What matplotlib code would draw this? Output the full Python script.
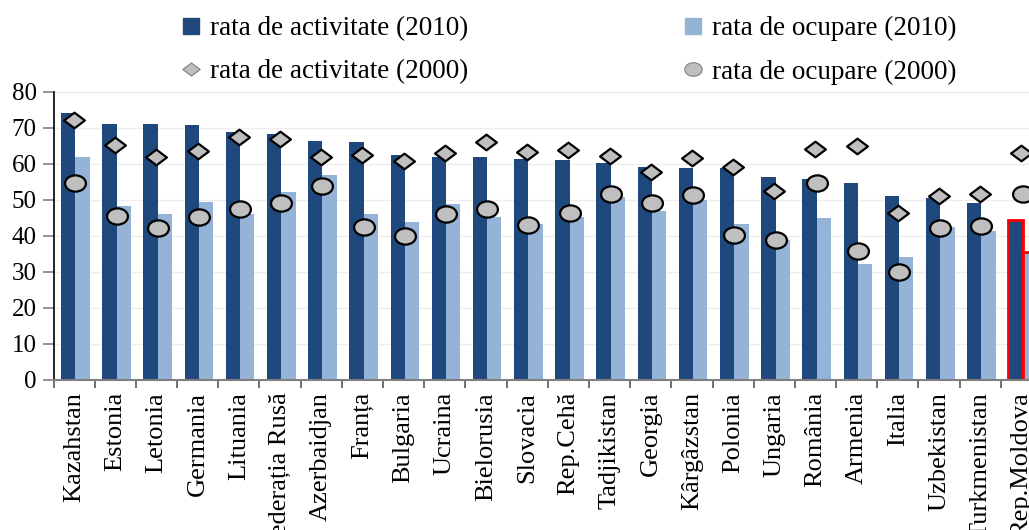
import numpy as np
import matplotlib
matplotlib.use("Agg")
import matplotlib.pyplot as plt
from matplotlib.path import Path
from matplotlib.lines import Line2D

plt.rcParams['font.family'] = ['Liberation Serif', 'DejaVu Serif']

# Data
tari = ["Kazahstan", "Estonia", "Letonia", "Germania", "Lituania", "Federația Rusă",
        "Azerbaidjan", "Franța", "Bulgaria", "Ucraina", "Bielorusia", "Slovacia",
        "Rep.Cehă", "Tadjikistan", "Georgia", "Kârgâzstan", "Polonia", "Ungaria",
        "România", "Armenia", "Italia", "Uzbekistan", "Turkmenistan", "Rep.Moldova"]
activ_2010 = [74.0, 71.0, 71.0, 70.8, 68.9, 68.2, 66.4, 66.1, 62.4, 61.9, 61.9, 61.2,
              60.9, 60.2, 59.0, 58.7, 58.7, 56.3, 55.8, 54.5, 50.9, 50.4, 49.2, 44.3]
ocup_2010 = [61.8, 48.2, 46.0, 49.4, 46.0, 52.2, 56.8, 46.0, 43.8, 48.7, 45.3, 43.3,
             45.1, 50.6, 46.7, 49.9, 43.3, 38.9, 44.8, 32.1, 34.0, 42.4, 41.4, 35.5]
activ_2000 = [72.1, 65.2, 61.8, 63.6, 67.5, 66.8, 61.9, 62.4, 60.7, 62.9, 65.9, 63.2,
              63.8, 62.1, 57.6, 61.5, 59.1, 52.5, 64.0, 65.0, 46.3, 51.0, 51.5, 63.0]
ocup_2000 = [54.7, 45.5, 42.0, 45.2, 47.4, 49.1, 53.8, 42.5, 40.0, 45.9, 47.4, 42.9,
             46.2, 51.7, 49.0, 51.4, 40.2, 38.8, 54.5, 35.6, 30.0, 42.1, 42.8, 51.7]

lbl_a10 = "rata de activitate (2010)"
lbl_o10 = "rata de ocupare (2010)"
lbl_a00 = "rata de activitate (2000)"
lbl_o00 = "rata de ocupare (2000)"

dark = '#1F497D'
light = '#95B3D7'
grey = '#BFBFBF'

# markers look a bit flattened in the original
sq = 0.75
diamond = Path(np.array([[0, 1], [1, 0], [0, -1], [-1, 0], [0, 1]]) * [1, sq],
               [Path.MOVETO, Path.LINETO, Path.LINETO, Path.LINETO, Path.CLOSEPOLY])
circ = Path.unit_circle()
ellipse = Path(circ.vertices * [1, 0.78], circ.codes)

fig = plt.figure(figsize=(10.29, 5.30), dpi=100)
ax = fig.add_axes([53.5 / 1029, 1 - 379.5 / 530, (1042 - 53.5) / 1029, (379.5 - 91.7) / 530])

x = np.arange(len(tari))
w = 0.347
b1 = ax.bar(x - w / 2 + 0.03, activ_2010, w, color=dark, zorder=2)
b2 = ax.bar(x + w / 2 + 0.03, ocup_2010, w, color=light, zorder=2)

# Moldova highlighted with red outline
for b in (b1[-1], b2[-1]):
    b.set_edgecolor('#FF0000')
    b.set_linewidth(2)

ax.plot(x, activ_2000, linestyle='none', marker=diamond, markersize=15,
        markerfacecolor=grey, markeredgecolor='black', markeredgewidth=1.6, zorder=3)
ax.plot(x + 0.03, ocup_2000, linestyle='none', marker=ellipse, markersize=15,
        markerfacecolor=grey, markeredgecolor='black', markeredgewidth=1.6, zorder=3)

ax.set_xlim(-0.5, len(tari) - 0.5)
ax.set_ylim(0, 80)
ax.set_yticks(np.arange(0, 81, 10))
ax.set_xticks(x)
ax.set_xticklabels(tari, rotation=90, fontsize=19, va='top', ha='center')
ax.set_xticks(np.arange(-0.5, len(tari), 1), minor=True)
ax.tick_params(axis='x', which='major', length=0, pad=9)
ax.tick_params(axis='x', which='minor', length=6, width=1.2, color='#595959')
ax.tick_params(axis='y', labelsize=18, length=8, width=1.2, color='#808080', pad=4)

ax.grid(axis='y', color='#EEEEEE', linewidth=1, zorder=0)
ax.set_axisbelow(True)
for s in ('top', 'right'):
    ax.spines[s].set_visible(False)
ax.spines['left'].set_color('black')
ax.spines['bottom'].set_color('#7F7F7F')
ax.spines['left'].set_linewidth(1.2)
ax.spines['bottom'].set_linewidth(1.5)

handles = [
    Line2D([], [], linestyle='none', marker='s', markersize=11, color=dark),
    Line2D([], [], linestyle='none', marker=diamond, markersize=12.5, markerfacecolor=grey,
           markeredgecolor='#7F7F7F', markeredgewidth=0.8),
    Line2D([], [], linestyle='none', marker='s', markersize=11, color=light),
    Line2D([], [], linestyle='none', marker=ellipse, markersize=12.5, markerfacecolor=grey,
           markeredgecolor='#7F7F7F', markeredgewidth=0.8),
]
fig.legend(handles, [lbl_a10, lbl_a00, lbl_o10, lbl_o00], ncol=2, frameon=False,
           loc='upper left', bbox_to_anchor=(180 / 1029, 1 - 16 / 530),
           fontsize=19.5, handlelength=0.8, handletextpad=0.3, columnspacing=7.9,
           labelspacing=0.68, borderpad=0, borderaxespad=0)

fig.savefig('out.png', dpi=100)
